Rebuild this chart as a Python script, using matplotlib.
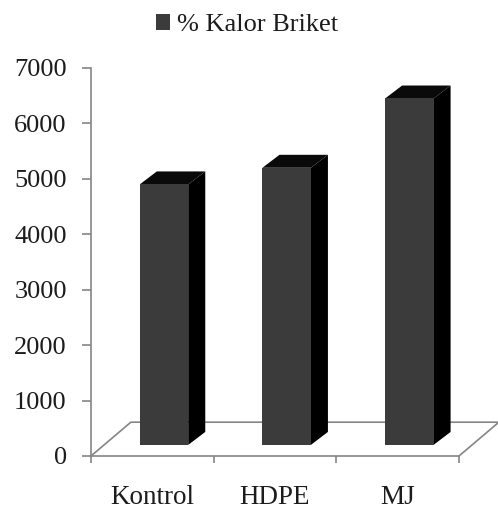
import numpy as np
import matplotlib.pyplot as plt

kategori = ['Kontrol', 'HDPE', 'MJ']
kalor = [4700, 5000, 6250]
y_ticks = [0, 1000, 2000, 3000, 4000, 5000, 6000, 7000]
legend_label = '% Kalor Briket'

plt.rcParams['font.family'] = ['Liberation Serif', 'DejaVu Serif']

W, H = 498, 509
fig = plt.figure(figsize=(W / 100, H / 100), dpi=100)
ax = fig.add_axes([91 / W, 1 - 456 / H, 368 / W, 388 / H])
ax.set_xlim(0, 3)
ax.set_ylim(0, 7000)

line_col = '#858585'
text_col = '#1c1c1c'

# floor of the 3d box
floor_dx, floor_dy = 0.325, 610
ax.plot([0, floor_dx, 3 + floor_dx, 3], [0, floor_dy, floor_dy, 0],
        color=line_col, lw=1.2, clip_on=False, zorder=1)

# bars: front face from ax.bar, side and top faces drawn as polygons
pos = np.arange(3) + 0.595
width = 0.395
base = 200
dx, dy = 0.139, 234
bars = ax.bar(pos, kalor, width, bottom=base, color='#3b3b3b', zorder=3,
              clip_on=False, label=legend_label)
for p, v in zip(pos, kalor):
    right = p + width / 2
    left = p - width / 2
    top = base + v
    ax.fill([right, right + dx, right + dx, right],
            [base, base + dy, top + dy, top],
            color='#000000', lw=0, zorder=2, clip_on=False)
    ax.fill([left, left + dx, right + dx, right],
            [top, top + dy, top + dy, top],
            color='#0a0a0a', lw=0, zorder=2, clip_on=False)

for s in ['top', 'right']:
    ax.spines[s].set_visible(False)
for s in ['left', 'bottom']:
    ax.spines[s].set_color(line_col)
    ax.spines[s].set_linewidth(1.2)

ax.set_yticks(y_ticks)
ax.set_xticks([0, 1, 2, 3])
ax.set_xticklabels([])
ax.set_xticks(np.arange(3) + 0.5, kategori, minor=True)
ax.tick_params(axis='y', length=6.5, width=1.2, color=line_col,
               labelsize=19, labelcolor=text_col, pad=11)
ax.tick_params(axis='x', which='major', length=5, width=1.2, color=line_col)
ax.tick_params(axis='x', which='minor', length=0, labelsize=19.5,
               labelcolor=text_col, pad=21)

ax.legend(handles=[bars], loc='center', bbox_to_anchor=(247 / W, 1 - 25 / H),
          bbox_transform=fig.transFigure, frameon=False, fontsize=19,
          handlelength=0.55, handleheight=0.55, handletextpad=0.25,
          labelcolor=text_col, borderpad=0, labelspacing=0)

fig.savefig('out.png', dpi=100)
